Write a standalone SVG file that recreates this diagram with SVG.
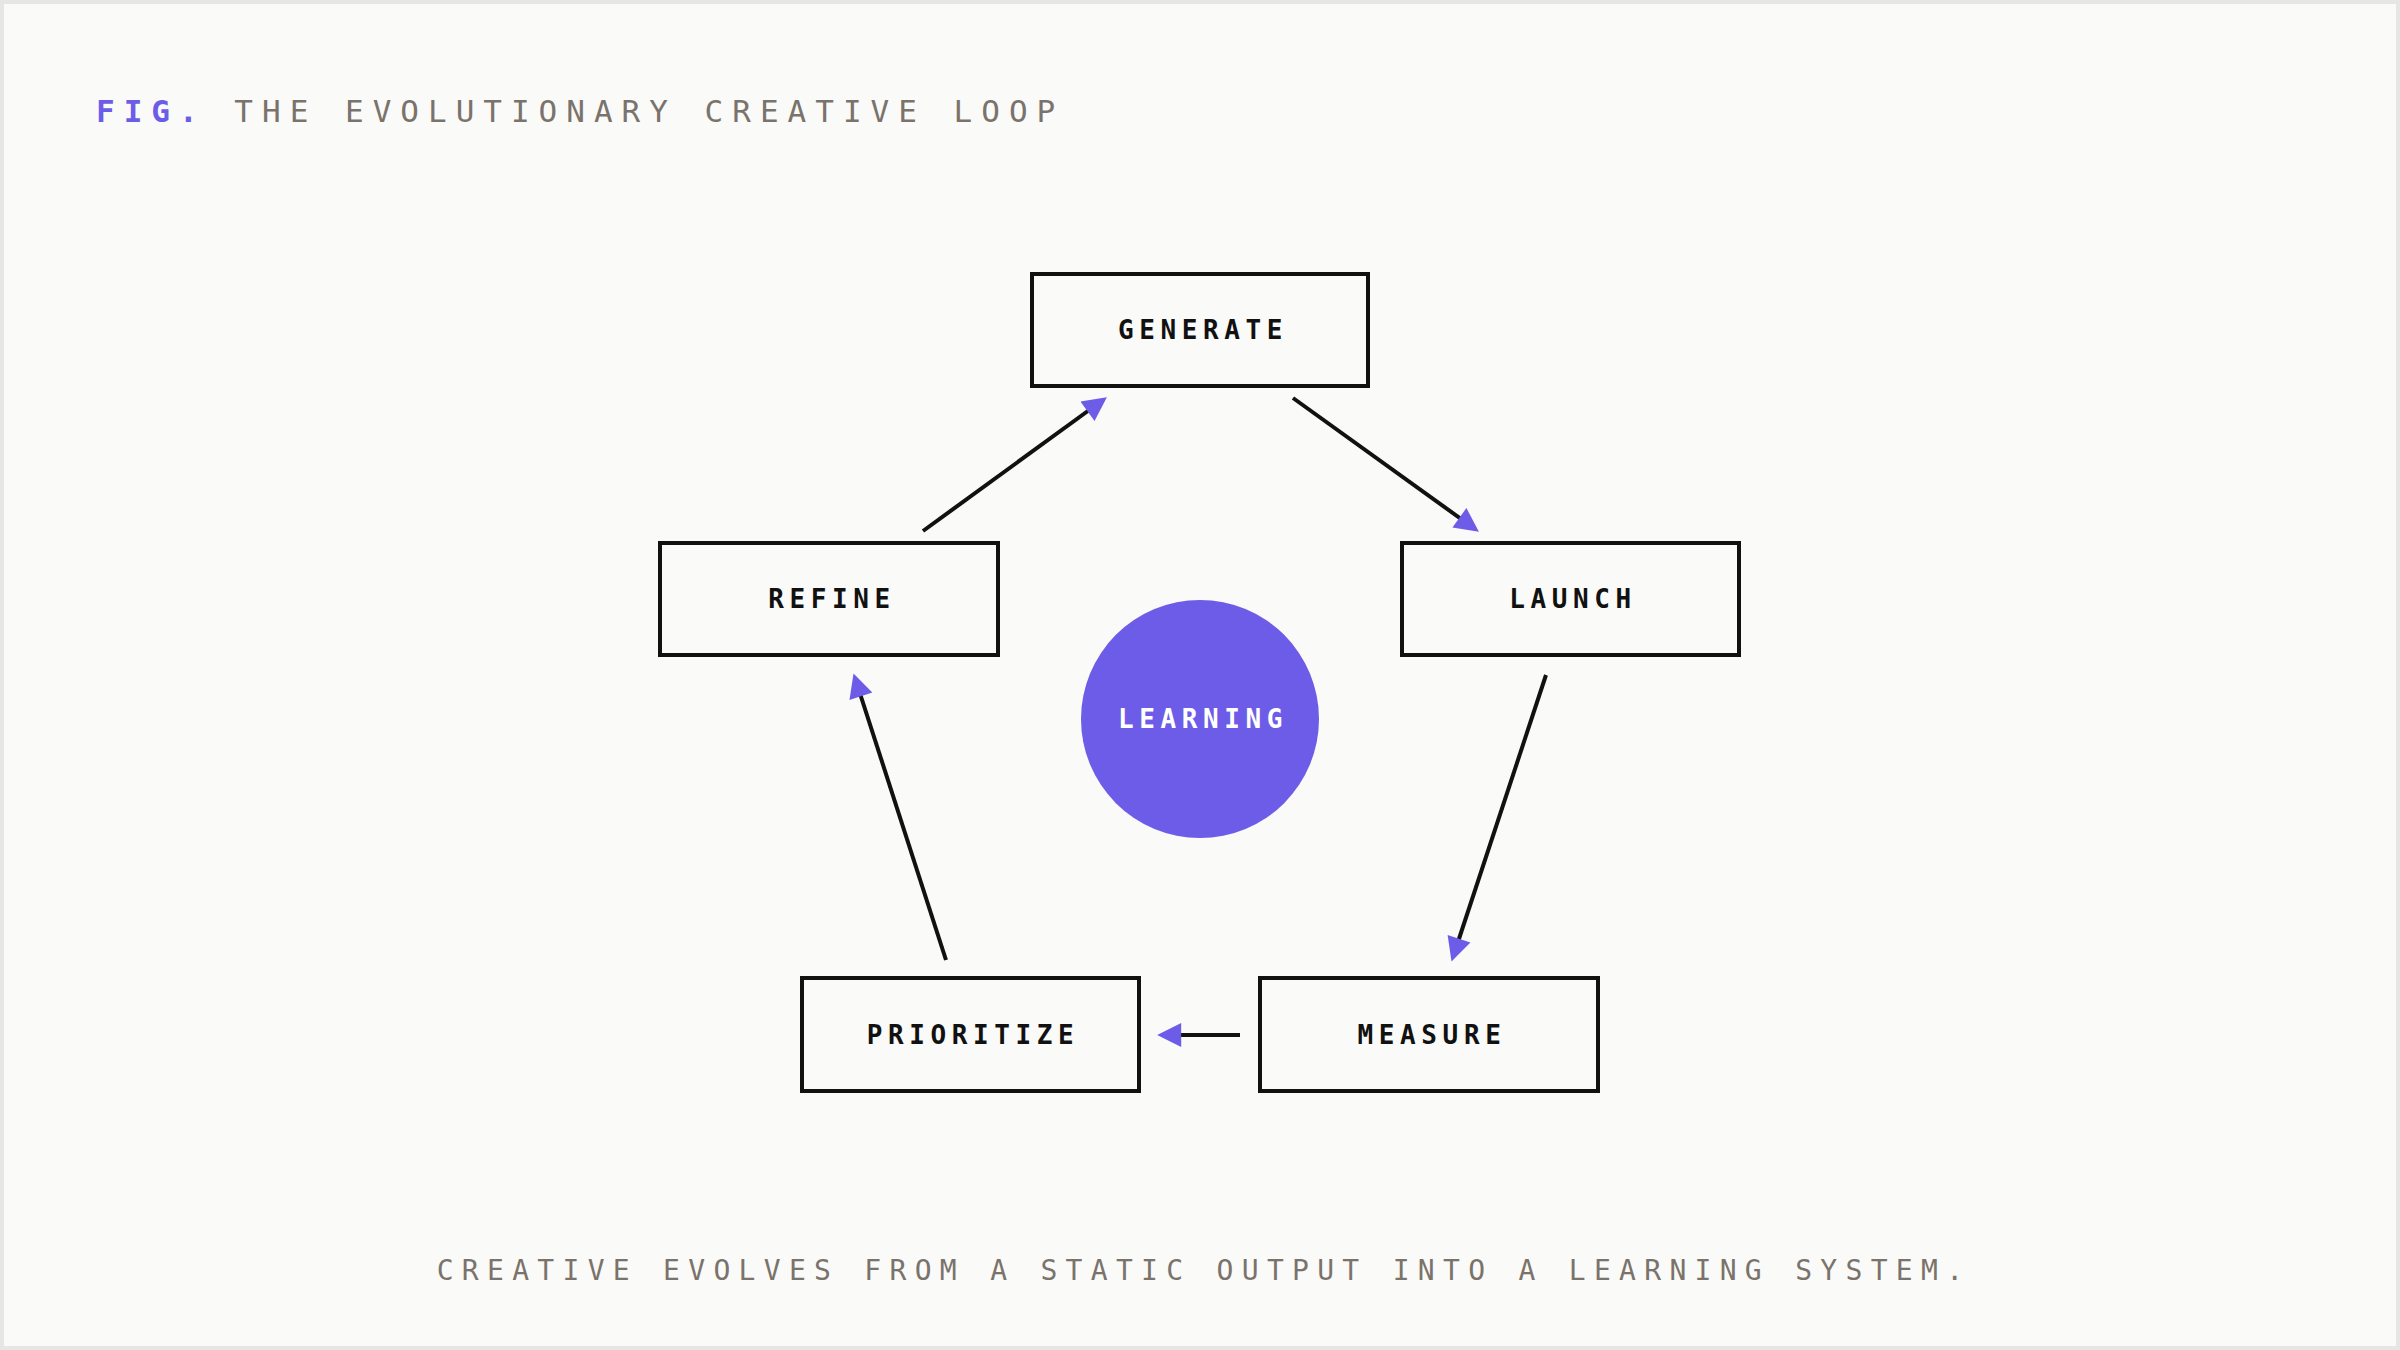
<svg xmlns="http://www.w3.org/2000/svg" width="2400" height="1350" viewBox="0 0 2400 1350">
<style>
.box{fill:none;stroke:#111;stroke-width:4}
.lbl{font-family:"DejaVu Sans Mono",monospace;font-weight:bold;font-size:26px;letter-spacing:5.6px;fill:#111;text-anchor:middle}
.con{stroke:#111;stroke-width:4;fill:none;marker-end:url(#ah)}
.gray{font-family:"DejaVu Sans Mono",monospace;fill:#7a736c}
</style>
<defs>
<marker id="ah" viewBox="0 0 10 10" refX="8" refY="5" markerWidth="6.5" markerHeight="6" markerUnits="strokeWidth" orient="auto">
<path d="M0,0 L10,5 L0,10 z" fill="#6c5ce7"/>
</marker>
</defs>
<rect x="0" y="0" width="2400" height="1350" fill="#e6e6e4"/>
<rect x="4" y="4" width="2392" height="1342" fill="#fafaf8"/>
<text x="96" y="122" class="gray" font-size="31" letter-spacing="9"><tspan fill="#6c5ce7" font-weight="bold">FIG.</tspan> THE EVOLUTIONARY CREATIVE LOOP</text>
<text x="1204" y="1280" class="gray" font-size="28" letter-spacing="8.3" text-anchor="middle">CREATIVE EVOLVES FROM A STATIC OUTPUT INTO A LEARNING SYSTEM.</text>
<g id="connectors">
<line class="con" x1="923" y1="531" x2="1103" y2="400"/>
<line class="con" x1="1293" y1="398" x2="1475" y2="529"/>
<line class="con" x1="1546" y1="675" x2="1453" y2="957"/>
<line class="con" x1="1240" y1="1035" x2="1162" y2="1035"/>
<line class="con" x1="946" y1="960" x2="855" y2="678"/>
</g>
<g id="generate"><rect class="box" x="1032" y="274" width="336" height="112"/><text class="lbl" x="1203" y="339">GENERATE</text></g>
<g id="refine"><rect class="box" x="660" y="543" width="338" height="112"/><text class="lbl" x="832" y="608">REFINE</text></g>
<g id="launch"><rect class="box" x="1402" y="543" width="337" height="112"/><text class="lbl" x="1573" y="608">LAUNCH</text></g>
<g id="prioritize"><rect class="box" x="802" y="978" width="337" height="113"/><text class="lbl" x="973" y="1044">PRIORITIZE</text></g>
<g id="measure"><rect class="box" x="1260" y="978" width="338" height="113"/><text class="lbl" x="1432" y="1044">MEASURE</text></g>
<g id="learning"><circle cx="1200" cy="719" r="119" fill="#6c5ce7"/><text class="lbl" x="1203" y="728" fill="#fff" style="fill:#fff">LEARNING</text></g>
</svg>
